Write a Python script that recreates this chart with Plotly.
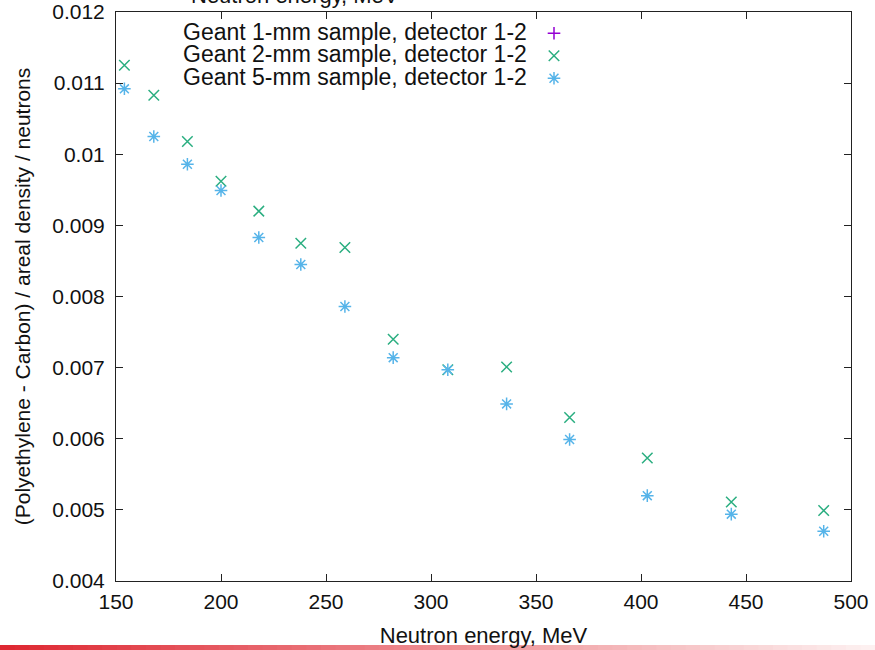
import plotly.graph_objects as go

# ---- data ----
energy = [154, 168, 184, 200, 218, 238, 259, 282, 308, 336, 366, 403, 443, 487]
geant_1mm = [None] * 14  # no points visible, entry appears only in the key
geant_2mm = [0.01125, 0.01083, 0.01018, 0.00962, 0.00920, 0.00875, 0.00869,
             0.00740, 0.00697, 0.00701, 0.00630, 0.00573, 0.00511, 0.00499]
geant_5mm = [0.01092, 0.01025, 0.00986, 0.00949, 0.00883, 0.00845, 0.00786,
             0.00714, 0.00697, 0.00649, 0.00599, 0.00520, 0.00494, 0.00470]

names = ["Geant 1-mm sample, detector 1-2",
         "Geant 2-mm sample, detector 1-2",
         "Geant 5-mm sample, detector 1-2"]
x_ticks = [150, 200, 250, 300, 350, 400, 450, 500]
y_ticks = [0.004, 0.005, 0.006, 0.007, 0.008, 0.009, 0.010, 0.011, 0.012]
y_ticktext = ["0.004", "0.005", "0.006", "0.007", "0.008", "0.009", "0.01", "0.011", "0.012"]
colors = ["#9400d3", "#2aae80", "#56b4e9"]
symbols = ["cross-thin-open", "x-thin-open", "asterisk-open"]
sizes = [9, 10.5, 10.5]
series = [geant_1mm, geant_2mm, geant_5mm]

FONT = "Liberation Sans, Arial, Helvetica, sans-serif"
W, H = 875, 650
ML, MR, MT, MB = 116, 24, 12, 69
plot_w = W - ML - MR
plot_h = H - MT - MB


def px_x(p):
    return (p - ML) / plot_w


def px_y(p):
    return 1 - (p - MT) / plot_h


fig = go.Figure()
for nm, ys, col, sym, sz in zip(names, series, colors, symbols, sizes):
    fig.add_trace(go.Scatter(
        x=energy, y=ys, mode="markers", name="",
        hovertemplate=nm + "<br>%{x} MeV, %{y}<extra></extra>",
        marker=dict(symbol=sym, size=sz, color=col, line=dict(width=1.5, color=col))))

axis_common = dict(showline=True, linecolor="#222", linewidth=1, mirror="allticks",
                   ticks="inside", ticklen=7, tickwidth=1, tickcolor="#222",
                   showgrid=False, zeroline=False,
                   tickfont=dict(family=FONT, size=21, color="#111"))

fig.update_xaxes(range=[150, 500], tickvals=x_ticks, ticklabelstandoff=2,
                 title=dict(text="Neutron energy, MeV", font=dict(family=FONT, size=22, color="#111"),
                            standoff=15),
                 **axis_common)
fig.update_yaxes(range=[0.004, 0.012], tickvals=y_ticks, ticktext=y_ticktext,
                 ticklabelstandoff=6,
                 title=dict(text="(Polyethylene - Carbon) / areal density / neutrons",
                            font=dict(family=FONT, size=21, color="#111"), standoff=15),
                 **axis_common)

# cut-off label at the top edge of the page (as in the reference)
fig.add_annotation(text="Neutron energy, MeV", xref="paper", yref="paper",
                   x=px_x(295), y=px_y(10), xanchor="center", yanchor="bottom",
                   showarrow=False, font=dict(family=FONT, size=22, color="#111"))

# key texts (right-aligned, symbols to their right via the legend)
key_rows = [32, 54.5, 76.5]
for nm, yy in zip(names, key_rows):
    fig.add_annotation(text=nm, xref="paper", yref="paper", x=px_x(529), y=px_y(yy),
                       xanchor="right", yanchor="middle", showarrow=False,
                       font=dict(family=FONT, size=23, color="#111"))

# red gradient band at the bottom edge
n = 60
x0p, x1p = px_x(0), px_x(W)
ytop, ybot = px_y(645), px_y(652)
c0 = (222, 40, 50)
c1 = (253, 240, 240)
for i in range(n):
    t = i / (n - 1)
    col = tuple(int(round(c0[k] + (c1[k] - c0[k]) * t)) for k in range(3))
    fig.add_shape(type="rect", xref="paper", yref="paper",
                  x0=x0p + (x1p - x0p) * i / n, x1=x0p + (x1p - x0p) * (i + 1) / n + 0.002,
                  y0=ybot, y1=ytop, line=dict(width=0),
                  fillcolor="rgb(%d,%d,%d)" % col, layer="above")

fig.update_layout(
    width=W, height=H,
    margin=dict(l=ML, r=MR, t=MT, b=MB, autoexpand=False),
    paper_bgcolor="white", plot_bgcolor="white",
    font=dict(family=FONT, size=20, color="#111"),
    legend=dict(x=px_x(534), y=px_y(17), xanchor="left", yanchor="top",
                bgcolor="rgba(0,0,0,0)", font=dict(family=FONT, size=15, color="#111"),
                tracegroupgap=0, itemwidth=30),
    showlegend=True,
)

fig.write_html("out.html")
